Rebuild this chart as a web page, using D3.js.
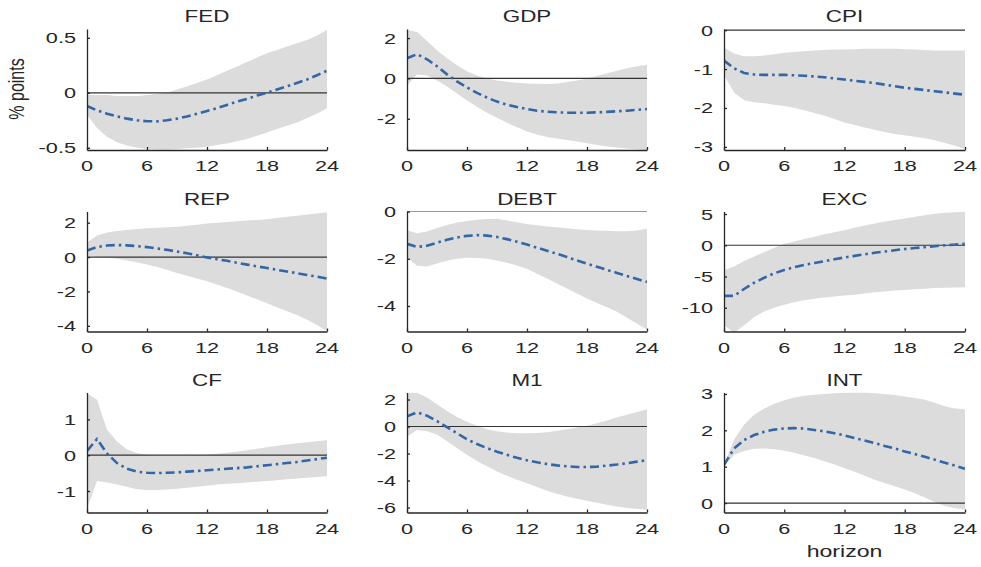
<!DOCTYPE html>
<html>
<head>
<meta charset="utf-8">
<script src="https://cdn.jsdelivr.net/npm/d3@7/dist/d3.min.js"></script>
<style>
  html, body { margin: 0; padding: 0; background: #fff; }
  svg { display: block; }
  text { font-family: "Liberation Sans", Arial, Helvetica, sans-serif; fill: #262626; }
</style>
</head>
<body>
<svg id="chart" width="981" height="567"></svg>
<script>
// ---------- DATA ----------
const horizons = d3.range(0, 25);
const titles = ["FED", "GDP", "CPI", "REP", "DEBT", "EXC", "CF", "M1", "INT"];
const xTicks = [0, 6, 12, 18, 24];

const fedMed = [-0.12,-0.16,-0.19,-0.215,-0.235,-0.25,-0.258,-0.26,-0.25,-0.235,-0.215,-0.19,-0.165,-0.14,-0.11,-0.08,-0.055,-0.025,0.0,0.03,0.06,0.09,0.12,0.16,0.2];
const fedLo  = [-0.2,-0.32,-0.4,-0.45,-0.48,-0.5,-0.51,-0.515,-0.515,-0.51,-0.505,-0.5,-0.49,-0.475,-0.46,-0.44,-0.42,-0.39,-0.36,-0.33,-0.3,-0.27,-0.23,-0.19,-0.14];
const fedHi  = [-0.02,-0.02,-0.02,-0.03,-0.03,-0.03,-0.02,-0.01,0.0,0.03,0.06,0.09,0.12,0.16,0.2,0.24,0.28,0.32,0.36,0.39,0.42,0.45,0.48,0.52,0.57];

const gdpMed = [1.0,1.2,0.95,0.6,0.2,-0.15,-0.45,-0.72,-0.95,-1.15,-1.3,-1.42,-1.52,-1.6,-1.65,-1.68,-1.7,-1.7,-1.7,-1.68,-1.66,-1.63,-1.6,-1.56,-1.52];
const gdpLo  = [-0.35,0.2,0.15,-0.1,-0.4,-0.75,-1.1,-1.4,-1.7,-1.95,-2.2,-2.42,-2.63,-2.78,-2.9,-2.98,-3.05,-3.13,-3.22,-3.3,-3.38,-3.43,-3.47,-3.51,-3.55];
const gdpHi  = [2.4,2.3,1.85,1.4,1.0,0.65,0.35,0.15,0.0,-0.1,-0.17,-0.22,-0.25,-0.27,-0.28,-0.25,-0.18,-0.1,0.0,0.12,0.25,0.38,0.5,0.6,0.68];

const cpiMed = [-0.78,-0.98,-1.1,-1.14,-1.15,-1.15,-1.15,-1.16,-1.17,-1.19,-1.21,-1.24,-1.27,-1.3,-1.33,-1.36,-1.4,-1.44,-1.48,-1.51,-1.54,-1.57,-1.6,-1.63,-1.66];
const cpiLo  = [-1.15,-1.6,-1.8,-1.85,-1.88,-1.92,-1.95,-2.0,-2.06,-2.13,-2.2,-2.28,-2.37,-2.44,-2.5,-2.56,-2.62,-2.67,-2.7,-2.74,-2.78,-2.83,-2.9,-2.97,-3.05];
const cpiHi  = [-0.45,-0.6,-0.67,-0.67,-0.65,-0.62,-0.58,-0.56,-0.54,-0.52,-0.51,-0.5,-0.5,-0.49,-0.48,-0.48,-0.48,-0.48,-0.49,-0.5,-0.51,-0.52,-0.52,-0.52,-0.52];

const repMed = [0.38,0.58,0.67,0.7,0.68,0.64,0.58,0.5,0.42,0.32,0.22,0.1,-0.02,-0.12,-0.22,-0.33,-0.44,-0.54,-0.64,-0.74,-0.84,-0.94,-1.04,-1.14,-1.25];
const repLo  = [0.06,0.02,-0.03,-0.1,-0.2,-0.3,-0.43,-0.58,-0.74,-0.92,-1.08,-1.25,-1.41,-1.6,-1.8,-2.0,-2.23,-2.46,-2.69,-2.92,-3.15,-3.37,-3.65,-3.95,-4.3];
const repHi  = [0.85,1.25,1.43,1.52,1.58,1.63,1.67,1.7,1.73,1.76,1.82,1.88,1.95,2.0,2.04,2.08,2.12,2.16,2.2,2.27,2.34,2.4,2.47,2.54,2.6];

const debtMed = [-1.37,-1.5,-1.45,-1.32,-1.2,-1.1,-1.03,-1.0,-1.02,-1.08,-1.17,-1.28,-1.4,-1.53,-1.66,-1.79,-1.93,-2.07,-2.21,-2.34,-2.47,-2.6,-2.73,-2.86,-2.98];
const debtLo  = [-1.95,-2.3,-2.33,-2.2,-2.08,-2.0,-1.96,-1.97,-2.0,-2.07,-2.17,-2.29,-2.42,-2.63,-2.84,-3.05,-3.26,-3.47,-3.68,-3.87,-4.05,-4.24,-4.5,-4.75,-5.0];
const debtHi  = [-0.8,-0.92,-0.85,-0.7,-0.57,-0.47,-0.4,-0.35,-0.32,-0.31,-0.38,-0.46,-0.53,-0.58,-0.63,-0.67,-0.71,-0.75,-0.78,-0.8,-0.82,-0.84,-0.84,-0.8,-0.73];

const excMed = [-8.1,-8.1,-7.0,-6.0,-5.2,-4.5,-3.95,-3.5,-3.15,-2.85,-2.55,-2.25,-1.95,-1.7,-1.45,-1.2,-1.0,-0.8,-0.6,-0.45,-0.3,-0.15,0.0,0.1,0.25];
const excLo  = [-12.8,-14.0,-12.8,-11.5,-10.6,-10.0,-9.5,-9.1,-8.8,-8.55,-8.35,-8.2,-8.05,-7.9,-7.7,-7.5,-7.4,-7.25,-7.15,-7.05,-6.95,-6.85,-6.8,-6.75,-6.7];
const excHi  = [-4.0,-3.4,-2.5,-1.8,-1.1,-0.4,0.2,0.6,1.0,1.35,1.75,2.1,2.4,2.8,3.15,3.5,3.8,4.05,4.3,4.55,4.8,5.05,5.2,5.3,5.4];

const cfMed = [0.12,0.45,0.05,-0.22,-0.38,-0.46,-0.49,-0.5,-0.49,-0.48,-0.46,-0.44,-0.42,-0.4,-0.38,-0.36,-0.34,-0.31,-0.28,-0.25,-0.22,-0.19,-0.15,-0.11,-0.07];
const cfLo  = [-1.5,-0.72,-0.76,-0.82,-0.88,-0.95,-0.97,-0.97,-0.96,-0.94,-0.91,-0.88,-0.85,-0.82,-0.8,-0.78,-0.76,-0.74,-0.72,-0.7,-0.67,-0.65,-0.63,-0.61,-0.59];
const cfHi  = [1.72,1.55,0.72,0.38,0.16,0.06,0.01,-0.01,-0.02,-0.02,-0.01,0.0,0.01,0.04,0.07,0.1,0.14,0.18,0.22,0.26,0.3,0.33,0.36,0.39,0.42];

const m1Med = [0.75,1.05,0.8,0.4,-0.05,-0.5,-0.95,-1.3,-1.6,-1.87,-2.1,-2.32,-2.5,-2.65,-2.78,-2.88,-2.95,-3.0,-3.0,-2.97,-2.9,-2.82,-2.72,-2.6,-2.5];
const m1Lo  = [-0.75,-0.25,-0.35,-0.6,-1.1,-1.6,-2.1,-2.55,-2.95,-3.33,-3.65,-3.95,-4.2,-4.48,-4.75,-4.99,-5.18,-5.35,-5.5,-5.65,-5.8,-5.93,-6.03,-6.1,-6.17];
const m1Hi  = [2.5,2.5,2.15,1.65,1.15,0.7,0.35,0.05,-0.2,-0.35,-0.45,-0.5,-0.5,-0.48,-0.42,-0.32,-0.2,-0.08,0.05,0.25,0.45,0.68,0.88,1.08,1.28];

const intMed = [1.05,1.5,1.73,1.87,1.96,2.02,2.05,2.06,2.05,2.01,1.97,1.92,1.86,1.79,1.72,1.65,1.57,1.5,1.42,1.35,1.27,1.19,1.11,1.03,0.94];
const intLo  = [1.0,1.33,1.43,1.49,1.5,1.48,1.44,1.38,1.31,1.24,1.15,1.06,0.96,0.86,0.75,0.64,0.55,0.46,0.37,0.27,0.15,0.02,-0.08,-0.14,-0.18];
const intHi  = [1.05,1.75,2.15,2.43,2.6,2.73,2.83,2.9,2.95,2.98,3.0,3.02,3.03,3.04,3.04,3.02,3.0,2.97,2.93,2.89,2.84,2.76,2.66,2.6,2.58];

const yDomains = [[-0.52,0.58],[-3.55,2.45],[-3.08,0.03],[-4.33,2.65],[-5.08,0.0],[-13.8,5.4],[-1.6,1.75],[-6.37,2.52],[-0.26,3.04]];
const yTicks = [[-0.5,0,0.5],[-2,0,2],[-3,-2,-1,0],[-4,-2,0,2],[-4,-2,0],[-10,-5,0,5],[-1,0,1],[-6,-4,-2,0,2],[0,1,2,3]];
const yTickLabels = [["-0.5","0","0.5"],["-2","0","2"],["-3","-2","-1","0"],["-4","-2","0","2"],["-4","-2","0"],["-10","-5","0","5"],["-1","0","1"],["-6","-4","-2","0","2"],["0","1","2","3"]];

const medians = [fedMed, gdpMed, cpiMed, repMed, debtMed, excMed, cfMed, m1Med, intMed];
const lowers  = [fedLo, gdpLo, cpiLo, repLo, debtLo, excLo, cfLo, m1Lo, intLo];
const uppers  = [fedHi, gdpHi, cpiHi, repHi, debtHi, excHi, cfHi, m1Hi, intHi];

// ---------- LAYOUT ----------
const colX = [87, 407, 724];
const colW = [240, 240, 241];
const rowY = [29, 211.5, 392.5];
const rowH = [121, 120, 120];
const SX = 1.4; // horizontal text stretch of the reference

const svg = d3.select("#chart");
const defs = svg.append("defs");

function stretchedText(g, x, y, str, size, anchor) {
  return g.append("text")
    .attr("transform", `translate(${x},${y}) scale(${SX},1)`)
    .attr("text-anchor", anchor)
    .style("font-size", size + "px")
    .text(str);
}

titles.forEach((title, i) => {
  const c = i % 3, r = Math.floor(i / 3);
  const x0 = colX[c], y0 = rowY[r], w = colW[c], h = rowH[r];
  const g = svg.append("g").attr("transform", `translate(${x0},${y0})`);

  const x = d3.scaleLinear().domain([0, 24]).range([0, w]);
  const y = d3.scaleLinear().domain(yDomains[i]).range([h, 0]);

  defs.append("clipPath").attr("id", "clip" + i)
    .append("rect").attr("x", 0).attr("y", 0).attr("width", w).attr("height", h);

  const data = horizons.map((hz, k) => ({ h: hz, m: medians[i][k], lo: lowers[i][k], hi: uppers[i][k] }));

  const plot = g.append("g").attr("clip-path", `url(#clip${i})`);
  plot.append("path")
    .datum(data)
    .attr("fill", "#dcdcdc")
    .attr("d", d3.area().x(d => x(d.h)).y0(d => y(d.lo)).y1(d => y(d.hi)));

  // zero line
  plot.append("line")
    .attr("x1", 0).attr("x2", w)
    .attr("y1", y(0)).attr("y2", y(0))
    .attr("stroke", "#333").attr("stroke-width", 1.2);

  plot.append("path")
    .datum(data)
    .attr("fill", "none")
    .attr("stroke", "#3466a5")
    .attr("stroke-width", 2.6)
    .attr("stroke-dasharray", "9,4,2.5,4")
    .attr("d", d3.line().x(d => x(d.h)).y(d => y(d.m)));

  // axes (MATLAB style: inward ticks, left & bottom only)
  const xAxis = d3.axisBottom(x).tickValues(xTicks).tickSizeInner(-3).tickSizeOuter(0).tickFormat("");
  const gx = g.append("g").attr("transform", `translate(0,${h})`).call(xAxis);
  gx.selectAll("path, line").attr("stroke", "#262626").attr("stroke-width", 1.3);

  const yAxis = d3.axisLeft(y).tickValues(yTicks[i]).tickSizeInner(-3).tickSizeOuter(0).tickFormat("");
  const gy = g.append("g").call(yAxis);
  gy.selectAll("path, line").attr("stroke", "#262626").attr("stroke-width", 1.3);

  // tick labels
  xTicks.forEach(t => stretchedText(g, x(t), h + 21, String(t), 15.5, "middle"));
  yTicks[i].forEach((t, k) => stretchedText(g, -11, y(t) + 5.5, yTickLabels[i][k], 15.5, "end"));

  // title
  stretchedText(g, w / 2, -7, title, 16, "middle");
});

// y label
svg.append("text")
  .attr("transform", `translate(24,89) scale(${SX},1) rotate(-90)`)
  .attr("text-anchor", "middle")
  .style("font-size", "16px")
  .text("% points");

// x label
stretchedText(svg, colX[2] + colW[2] / 2, 557, "horizon", 16.5, "middle");
</script>
</body>
</html>
